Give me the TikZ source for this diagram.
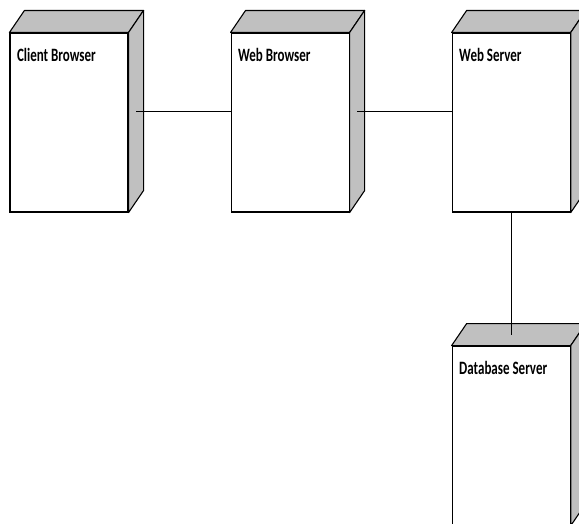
\documentclass[tikz,border=0pt]{standalone}
\usepackage{fontspec}
\setmainfont{Carlito}
\usetikzlibrary{positioning,calc}
\begin{document}
\begin{tikzpicture}[x=1pt,y=1pt,line width=1.1pt,
				device/.style={rectangle,draw,fill=white,minimum width=118pt,minimum height=179pt,inner sep=0pt},
				devlabel/.style={anchor=base west,inner sep=0pt,xshift=7pt,yshift=-29pt,font=\fontsize{13}{15}\selectfont\bfseries},
				face/.style={draw,fill={rgb,255:red,192;green,192;blue,192},line join=round}]
\useasboundingbox (0,0) rectangle (579,-523);
\node[device] (cb) at (69,-122.5) {};
\node[device,right=102pt of cb] (wb) {};
\node[device,right=102pt of wb] (ws) {};
\node[device,below=133pt of ws] (db) {};
% titles
\node[devlabel] at (cb.north west) {\scalebox{1}[1.45]{Client Browser}};
\node[devlabel] at (wb.north west) {\scalebox{1}[1.45]{Web Browser}};
\node[devlabel] at (ws.north west) {\scalebox{1}[1.45]{Web Server}};
\node[devlabel] at (db.north west) {\scalebox{1}[1.45]{Database Server}};
% top and side faces
\foreach \n in {cb,wb,ws,db} {
	\path[face] (\n.north west) -- ++(15,22) -- ($(\n.north east)+(15,22)$) -- (\n.north east) -- cycle;
	\path[face] (\n.north east) -- ++(15,22) -- ($(\n.south east)+(15,22)$) -- (\n.south east) -- cycle;
	\coordinate (\n-side) at ($(\n.east)+(7.5,11)$);
	\coordinate (\n-top) at ($(\n.north)+(7.5,11)$);
}
% connectors
\draw (cb-side) -- (cb-side -| wb.west);
\draw (wb-side) -- (wb-side -| ws.west);
\draw (ws.south) -- (ws.south |- db-top);
\end{tikzpicture}
\end{document}
